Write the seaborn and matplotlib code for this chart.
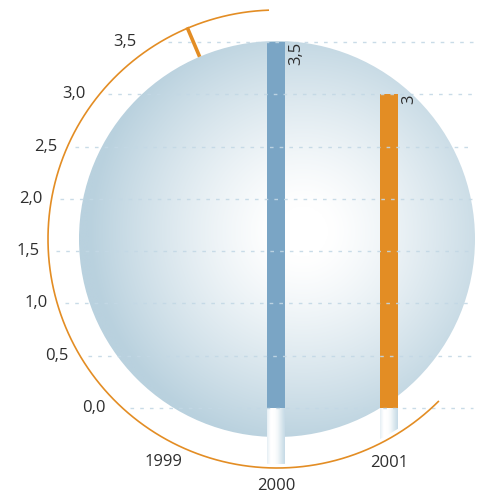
import numpy as np
import matplotlib
matplotlib.use("Agg")
import matplotlib.pyplot as plt
import seaborn as sns
from matplotlib.patches import Ellipse
from matplotlib.colors import to_rgb

# ---- data ----
years = ["1999", "2000", "2001"]
values = [0.0, 3.5, 3.0]
bar_colors = ["#7aa5c5", "#7aa5c5", "#e38d24"]
value_labels = ["", "3,5", "3"]
y_ticks = [0.0, 0.5, 1.0, 1.5, 2.0, 2.5, 3.0, 3.5]
y_tick_labels = ["0,0", "0,5", "1,0", "1,5", "2,0", "2,5", "3,0", "3,5"]

# ---- layout (pixel geometry of the canvas) ----
W, H = 478, 494
X0, SX = 163.0, 113.0          # pixel x of first category, pixels per category
Y0, SY = 408.0, 366.0 / 3.5    # pixel y of value 0, pixels per unit
CX, CY = 277.0, 239.0          # centre of the globe and ring
R_SPHERE, R_RING, R_STRIP, R_LABEL = 198.0, 229.0, 225.0, 249.0
YEAR_CY, YEAR_R = 198.0, 288.0  # flatter curve the year labels follow
BAR_W = 18.0 / SX

ORANGE = "#e38d24"
TEXT = "#2e2e2e"
GRID = "#c3d8e5"
FS = 12


def dx(xp):
    return (xp - X0) / SX


def dy(yp):
    return (Y0 - yp) / SY


def px_y(v):
    return Y0 - v * SY


sns.set_style("white")
plt.rcParams["font.family"] = ["Open Sans", "DejaVu Sans"]

fig = plt.figure(figsize=(W / 100, H / 100), dpi=100)
ax = fig.add_axes([0, 0, 1, 1])

# bars
sns.barplot(x=years, y=values, hue=years, palette=bar_colors, width=BAR_W,
            legend=False, ax=ax, linewidth=0, saturation=1, zorder=3)

ax.set_xlim(dx(0), dx(W))
ax.set_ylim(dy(H), dy(0))
ax.set_autoscale_on(False)
ax.axis("off")

# globe with a soft radial gradient
n = 500
gx = np.linspace(CX - R_SPHERE, CX + R_SPHERE, n)
gy = np.linspace(CY - R_SPHERE, CY + R_SPHERE, n)
GX, GY = np.meshgrid(gx, gy)
d = np.hypot(GX - 303, GY - 232) / (R_SPHERE * 1.08)
t = np.clip((d - 0.12) / 0.88, 0, 1) ** 1.25
edge = np.array(to_rgb("#b9d1de"))
img = (1 - t)[..., None] * np.ones(3) + t[..., None] * edge
sphere = ax.imshow(img, extent=(dx(CX - R_SPHERE), dx(CX + R_SPHERE),
                                dy(CY + R_SPHERE), dy(CY - R_SPHERE)),
                   origin="upper", aspect="auto", zorder=1, interpolation="bilinear")
clip_sphere = Ellipse((dx(CX), dy(CY)), 2 * R_SPHERE / SX, 2 * R_SPHERE / SY,
                      transform=ax.transData)
sphere.set_clip_path(clip_sphere)

# white stems below the bars, shaded like small cylinders
stem = np.array([to_rgb(c) for c in
                 ["#e6eff4", "#ffffff", "#ffffff", "#f4f8fa", "#dbe8ef", "#c6dae6"]])
pos = np.linspace(0, len(stem) - 1, 60)
stem_rgb = np.stack([np.interp(pos, np.arange(len(stem)), stem[:, k])
                     for k in range(3)], axis=-1)[None, ...]
for i, v in enumerate(values):
    if v <= 0:
        continue
    im = ax.imshow(stem_rgb, extent=(i - BAR_W / 2, i + BAR_W / 2, dy(H), 0),
                   aspect="auto", zorder=2, interpolation="bilinear")
    im.set_clip_path(Ellipse((dx(CX), dy(CY)), 2 * R_STRIP / SX, 2 * R_STRIP / SY,
                             transform=ax.transData))

# dashed guide lines starting just outside the ring
for v in y_ticks:
    yp = px_y(v)
    ring_x = CX - np.sqrt(R_RING ** 2 - (yp - CY) ** 2)
    ax.hlines(v, dx(ring_x + 8), dx(473), colors=GRID, linewidth=1.0,
              linestyles=(0, (2.6, 4.4)), alpha=0.9, zorder=4)

# y tick labels sitting on a circle around the globe
for v, lab in zip(y_ticks, y_tick_labels):
    yp = px_y(v)
    xp = CX - np.sqrt(R_LABEL ** 2 - (yp - CY) ** 2)
    ax.text(dx(xp), v, lab, ha="center", va="center", fontsize=FS, color=TEXT)

# category labels along a curve under the ring
for i, yr in enumerate(years):
    xp = X0 + i * SX
    yp = YEAR_CY + np.sqrt(YEAR_R ** 2 - (xp - CX) ** 2)
    ax.text(i, dy(yp), yr, ha="center", va="center", fontsize=FS, color=TEXT)

# value labels, rotated, beside the top of each bar
for i, (v, lab) in enumerate(zip(values, value_labels)):
    if not lab:
        continue
    ax.text(i + BAR_W / 2 + dx(X0 + 3), v, lab, rotation=90, rotation_mode="anchor",
            ha="right", va="top", fontsize=FS, color=TEXT, zorder=6)

# orange ring with a marker tick
theta = np.radians(np.linspace(92, 315, 400))
ax.plot(dx(CX + R_RING * np.cos(theta)), dy(CY - R_RING * np.sin(theta)),
        color=ORANGE, linewidth=1.2, zorder=5, solid_capstyle="butt")
a = np.radians(113)
r = np.array([R_SPHERE, R_RING + 1])
ax.plot(dx(CX + r * np.cos(a)), dy(CY - r * np.sin(a)), color=ORANGE,
        linewidth=2.6, zorder=5, solid_capstyle="butt")

fig.savefig("out.png", dpi=100, facecolor="white")
